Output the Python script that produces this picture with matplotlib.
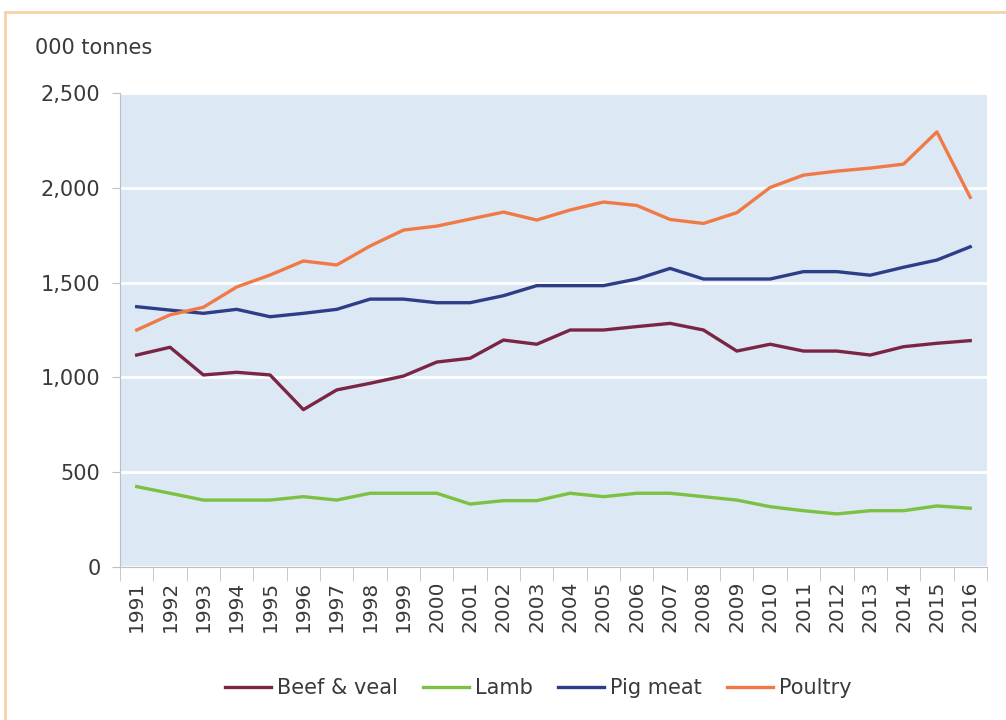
import numpy as np
import matplotlib
matplotlib.use('Agg')
import matplotlib.pyplot as plt
from matplotlib.lines import Line2D

plt.rcParams['font.family'] = ['DejaVu Sans']

years = list(range(1991, 2017))
beef = [1118, 1159, 1013, 1027, 1013, 830, 934, 969, 1007, 1081, 1101, 1197, 1175,
        1250, 1250, 1268, 1285, 1250, 1139, 1175, 1139, 1139, 1118, 1162, 1180, 1194]
lamb = [424, 389, 353, 353, 353, 371, 353, 389, 389, 389, 332, 350, 350,
        389, 371, 389, 389, 371, 353, 318, 297, 280, 297, 297, 322, 310]
pig = [1373, 1355, 1338, 1359, 1320, 1338, 1359, 1413, 1413, 1394, 1394, 1431, 1484,
       1484, 1484, 1519, 1575, 1519, 1519, 1519, 1558, 1558, 1539, 1581, 1619, 1689]
poultry = [1250, 1330, 1370, 1477, 1540, 1614, 1593, 1693, 1777, 1798, 1835, 1872, 1830,
           1883, 1925, 1907, 1833, 1812, 1869, 2002, 2067, 2088, 2104, 2125, 2295, 1950]

series = [('Beef & veal', beef, '#7A2544'), ('Lamb', lamb, '#7DC142'),
          ('Pig meat', pig, '#2D3E87'), ('Poultry', poultry, '#F07A45')]

fig = plt.figure(figsize=(10.06, 7.2), dpi=100)
ax = fig.add_axes([0.1193, 0.2125, 0.8617, 0.6583])
ax.set_facecolor('#DCE8F4')

x = np.arange(len(years))
for name, vals, col in series:
    ax.plot(x, vals, color=col, lw=2.4, label=name, solid_joinstyle='round')

ax.set_xlim(-0.5, len(years) - 0.5)
ax.set_ylim(0, 2500)
ax.set_yticks(np.arange(0, 2501, 500))
ax.set_yticklabels([f'{v:,}' for v in range(0, 2501, 500)], fontsize=15, color='#3a3a3a')
ax.grid(axis='y', color='white', lw=2)
ax.set_axisbelow(True)

ax.set_xticks(x)
ax.set_xticklabels([str(y) for y in years], rotation=90, fontsize=14.5, color='#3a3a3a')
ax.set_xticks(np.arange(-0.5, len(years)), minor=True)
ax.tick_params(axis='x', which='major', length=0, pad=10)
ax.tick_params(axis='x', which='minor', length=10, color='#BFBFBF')
ax.tick_params(axis='y', length=6, color='#BFBFBF', pad=8)

for s in ['top', 'right']:
    ax.spines[s].set_visible(False)
for s in ['left', 'bottom']:
    ax.spines[s].set_color('#BFBFBF')

fig.text(0.035, 0.933, '000 tonnes', fontsize=15, color='#3a3a3a', va='center')

fig.legend(loc='center', bbox_to_anchor=(0.535, 0.044), ncol=4, frameon=False,
           fontsize=15, handlelength=2.2, handletextpad=0.3, columnspacing=1.2,
           labelcolor='#3a3a3a')

# orange frame on top and left
fig.add_artist(Line2D([0.005, 1.0], [0.983, 0.983], color='#F7D3A8', lw=2, transform=fig.transFigure))
fig.add_artist(Line2D([0.005, 0.005], [0.0, 0.983], color='#F7D3A8', lw=2, transform=fig.transFigure))

fig.savefig('out.png', dpi=100)
